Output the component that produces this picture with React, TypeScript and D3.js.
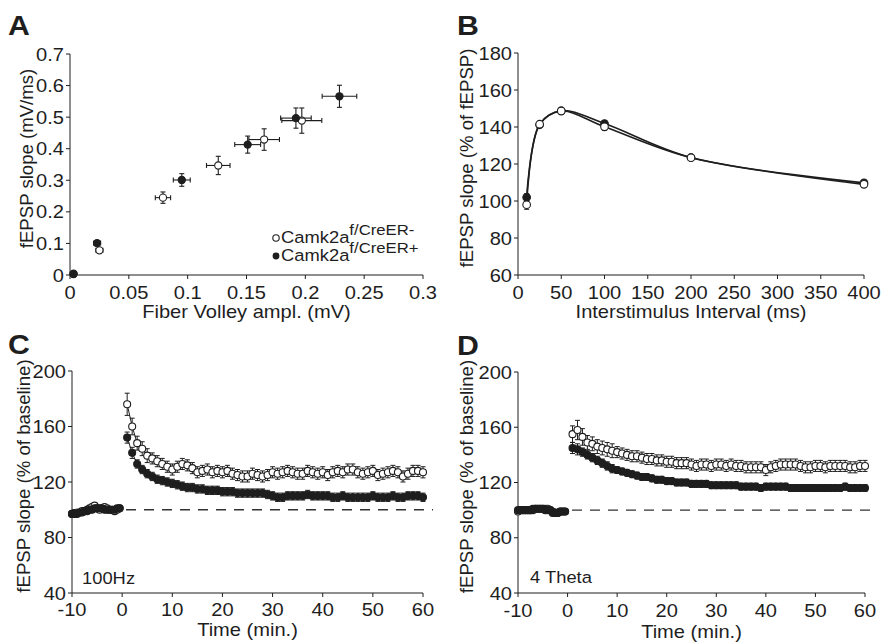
import React from 'react';
import * as d3 from 'd3';

// ---------- Panel A: input/output ----------
const fvOpen = [0.003, 0.025, 0.079, 0.126, 0.165, 0.197];
const fvOpenErr = [0.002, 0.003, 0.0065, 0.01, 0.013, 0.017];
const slopeOpen = [0.004, 0.078, 0.245, 0.347, 0.429, 0.489];
const slopeOpenErr = [0.003, 0.008, 0.018, 0.029, 0.034, 0.04];
const fvFilled = [0.003, 0.023, 0.095, 0.151, 0.192, 0.229];
const fvFilledErr = [0.002, 0.003, 0.0072, 0.011, 0.013, 0.0147];
const slopeFilled = [0.003, 0.101, 0.301, 0.413, 0.497, 0.566];
const slopeFilledErr = [0.003, 0.008, 0.02, 0.027, 0.032, 0.035];
const aXTicks = [0, 0.05, 0.1, 0.15, 0.2, 0.25, 0.3];
const aXLabels = ['0', '0.05', '0.1', '0.15', '0.2', '0.25', '0.3'];
const aYTicks = [0, 0.1, 0.2, 0.3, 0.4, 0.5, 0.6, 0.7];
const aYLabels = ['0', '0.1', '0.2', '0.3', '0.4', '0.5', '0.6', '0.7'];

// ---------- Panel B: paired pulse ----------
const isi = [10, 25, 50, 100, 200, 400];
const ppfOpen = [98, 141.5, 148.6, 140.1, 123.4, 109];
const ppfOpenErr = [2.5, 1.5, 1.5, 1.8, 1.2, 1.2];
const ppfFilled = [102, 141.2, 148.8, 141.9, 123.5, 109.8];
const ppfFilledErr = [2, 1.5, 1.5, 1.5, 1.2, 1.2];
const bXTicks = [0, 50, 100, 150, 200, 250, 300, 350, 400];
const bYTicks = [60, 80, 100, 120, 140, 160, 180];

// ---------- Panels C / D: LTP time course ----------
const timeMin = [
  -10, -9.5, -9, -8.5, -8, -7.5, -7, -6.5, -6, -5.5, -5, -4.5, -4, -3.5, -3, -2.5, -2, -1.5, -1, -0.5,
  1, 2, 3, 4, 5, 6, 7, 8, 9, 10, 11, 12, 13, 14, 15, 16, 17, 18, 19, 20,
  21, 22, 23, 24, 25, 26, 27, 28, 29, 30, 31, 32, 33, 34, 35, 36, 37, 38, 39, 40,
  41, 42, 43, 44, 45, 46, 47, 48, 49, 50, 51, 52, 53, 54, 55, 56, 57, 58, 59, 60,
];
const hfsOpen = [
  97, 97, 98, 98, 99, 99, 100, 101, 102, 103, 101, 100, 101, 102, 101, 100, 100, 99, 100, 101,
  176, 160, 148, 144, 139, 137, 135, 133, 131, 129, 131, 133, 132, 130, 127, 128, 129, 127, 128, 127,
  128, 126, 125, 124, 124, 126, 125, 124, 125, 127, 126, 127, 128, 127, 126, 126, 128, 127, 126, 127,
  125, 127, 128, 127, 129, 129, 127, 126, 127, 128, 125, 126, 127, 128, 127, 124, 126, 128, 128, 127,
];
const hfsOpenErr = [
  1.5, 1.5, 1.5, 1.5, 1.5, 1.5, 1.5, 1.5, 2, 2, 1.5, 1.5, 1.5, 1.5, 1.5, 1.5, 1.5, 1.5, 1.5, 1.5,
  8, 6, 5, 5, 5, 4, 4, 4, 4, 4, 4, 4, 4, 4, 4, 4, 4, 4, 4, 4,
  4, 4, 4, 4, 4, 4, 4, 4, 4, 4, 4, 4, 4, 4, 4, 4, 4, 4, 4, 4,
  4, 4, 4, 4, 4, 4, 4, 4, 4, 4, 4, 4, 4, 4, 4, 4, 4, 4, 4, 4,
];
const hfsFilled = [
  97, 97, 97, 98, 98, 99, 99, 100, 100, 101, 101, 101, 101, 100, 100, 100, 100, 100, 101, 101,
  152, 141, 133, 129, 126, 124, 122, 121, 120, 119, 118, 117, 116, 116, 115, 115, 114, 114, 114, 113,
  113, 113, 112, 112, 112, 112, 112, 112, 111, 110, 109, 109, 110, 110, 110, 110, 111, 110, 110, 110,
  110, 109, 109, 110, 109, 109, 109, 109, 109, 110, 109, 109, 109, 110, 109, 109, 110, 110, 110, 109,
];
const hfsFilledErr = [
  1.5, 1.5, 1.5, 1.5, 1.5, 1.5, 1.5, 1.5, 1.5, 1.5, 1.5, 1.5, 1.5, 1.5, 1.5, 1.5, 1.5, 1.5, 1.5, 1.5,
  4, 4, 3, 3, 3, 3, 3, 3, 3, 3, 3, 3, 3, 3, 3, 3, 3, 3, 3, 3,
  3, 3, 3, 3, 3, 3, 3, 3, 3, 3, 3, 3, 3, 3, 3, 3, 3, 3, 3, 3,
  3, 3, 3, 3, 3, 3, 3, 3, 3, 3, 3, 3, 3, 3, 3, 3, 3, 3, 3, 3,
];
const thetaOpen = [
  99, 100, 100, 100, 100, 100, 100, 101, 101, 101, 101, 101, 101, 100, 99, 98, 98, 99, 99, 99,
  155, 158, 153, 149, 148, 146, 145, 144, 143, 142, 141, 140, 139, 139, 138, 137, 137, 136, 136, 135,
  135, 134, 134, 134, 133, 132, 133, 133, 132, 133, 133, 132, 133, 132, 132, 131, 131, 131, 131, 129,
  131, 132, 133, 133, 133, 133, 132, 131, 131, 132, 132, 131, 132, 132, 132, 132, 131, 131, 132, 132,
];
const thetaOpenErr = [
  1, 1, 1, 1, 1, 1, 1, 1, 1, 1, 1, 1, 1, 1, 1, 1, 1, 1, 1, 1,
  6, 7, 6, 5, 5, 5, 5, 5, 5, 4, 4, 4, 4, 4, 4, 4, 4, 4, 4, 4,
  4, 4, 4, 4, 4, 4, 4, 4, 4, 4, 4, 4, 4, 4, 4, 4, 4, 4, 4, 4,
  4, 4, 4, 4, 4, 4, 4, 4, 4, 4, 4, 4, 4, 4, 4, 4, 4, 4, 4, 4,
];
const thetaFilled = [
  100, 100, 100, 100, 100, 100, 101, 101, 101, 101, 101, 100, 100, 100, 98, 98, 98, 99, 99, 99,
  145, 144, 142, 140, 138, 136, 134, 132, 130, 129, 128, 127, 126, 125, 124, 124, 123, 122, 122, 121,
  121, 120, 120, 120, 119, 119, 119, 119, 118, 118, 118, 118, 118, 118, 117, 117, 117, 117, 116, 117,
  117, 117, 117, 117, 116, 116, 116, 116, 116, 116, 116, 116, 116, 116, 116, 117, 116, 116, 116, 116,
];
const thetaFilledErr = [
  1, 1, 1, 1, 1, 1, 1, 1, 1, 1, 1, 1, 1, 1, 1, 1, 1, 1, 1, 1,
  4, 4, 3, 3, 3, 3, 3, 3, 3, 2.5, 2.5, 2.5, 2.5, 2.5, 2.5, 2.5, 2.5, 2.5, 2.5, 2.5,
  2.5, 2.5, 2.5, 2.5, 2.5, 2.5, 2.5, 2.5, 2.5, 2.5, 2.5, 2.5, 2.5, 2.5, 2.5, 2.5, 2.5, 2.5, 2.5, 2.5,
  2.5, 2.5, 2.5, 2.5, 2.5, 2.5, 2.5, 2.5, 2.5, 2.5, 2.5, 2.5, 2.5, 2.5, 2.5, 2.5, 2.5, 2.5, 2.5, 2.5,
];
const tXTicks = [-10, 0, 10, 20, 30, 40, 50, 60];
const tYTicks = [40, 80, 120, 160, 200];

const INK = '#1e1e1e';
const FONT = '"Liberation Sans", Arial, Helvetica, sans-serif';
const FS = 18.6;
const SX = 1.08; // the original figure is slightly stretched horizontally

type Lin = d3.ScaleLinear<number, number>;

// horizontal text, widened a little like the source figure
function HText({ x, y, anchor = 'start', size = FS, dy, children }: {
  x: number; y: number; anchor?: string; size?: number; dy?: string; children: React.ReactNode;
}) {
  return (
    <text transform={`translate(${x},${y}) scale(${SX},1)`} dy={dy} textAnchor={anchor}
      fontSize={size} fontFamily={FONT} fill={INK}>
      {children}
    </text>
  );
}

function Axes({ x, y, xTicks, xLabels, yTicks, yLabels, xLabel, yLabel, yLabelX, xLabelY, tickGap = 17 }: {
  x: Lin; y: Lin; xTicks: number[]; xLabels?: string[]; yTicks: number[]; yLabels?: string[];
  xLabel: string; yLabel: string; yLabelX: number; xLabelY: number; tickGap?: number;
}) {
  const [x0, x1] = x.range();
  const [y0, y1] = y.range();
  const yMid = (y0 + y1) / 2 - 6;
  return (
    <g>
      <line x1={x0} x2={x1} y1={y0} y2={y0} stroke={INK} strokeWidth={1} />
      <line x1={x0} x2={x0} y1={y0} y2={y1} stroke={INK} strokeWidth={1} />
      {xTicks.map((t, i) => (
        <g key={'x' + i}>
          <line x1={x(t)} x2={x(t)} y1={y0} y2={y0 + 4} stroke={INK} />
          <HText x={x(t)} y={y0 + tickGap} dy="0.35em" anchor="middle">
            {xLabels ? xLabels[i] : String(t)}
          </HText>
        </g>
      ))}
      {yTicks.map((t, i) => (
        <g key={'y' + i}>
          <line x1={x0 - 4} x2={x0} y1={y(t)} y2={y(t)} stroke={INK} />
          <HText x={x0 - 6} y={y(t)} dy="0.35em" anchor="end">
            {yLabels ? yLabels[i] : String(t)}
          </HText>
        </g>
      ))}
      <HText x={(x0 + x1) / 2} y={xLabelY} anchor="middle">{xLabel}</HText>
      <text transform={`translate(${yLabelX},${yMid}) rotate(-90)`} dy="0.35em" textAnchor="middle"
        fontSize={FS} fontFamily={FONT} fill={INK}>
        {yLabel}
      </text>
    </g>
  );
}

function Series({ xs, ys, errs, x, y, filled, line, curve, r = 3.5, cap = 2.5 }: {
  xs: number[]; ys: number[]; errs: number[]; x: Lin; y: Lin; filled: boolean;
  line?: boolean; curve?: d3.CurveFactory; r?: number; cap?: number;
}) {
  const idx = xs.map((_, i) => i);
  const path = d3.line<number>().x(i => x(xs[i])).y(i => y(ys[i])).curve(curve || d3.curveLinear);
  const pre = idx.filter(i => xs[i] < 0);
  const post = idx.filter(i => xs[i] >= 0);
  return (
    <g>
      {line && [pre, post].map((seg, k) => seg.length > 1 && (
        <path key={k} d={path(seg) || ''} fill="none" stroke={INK} strokeWidth={curve ? 1.6 : 1} />
      ))}
      {idx.map(i => (
        <g key={'e' + i} stroke={INK} strokeWidth={1}>
          <line x1={x(xs[i])} x2={x(xs[i])} y1={y(ys[i] - errs[i])} y2={y(ys[i] + errs[i])} />
          <line x1={x(xs[i]) - cap} x2={x(xs[i]) + cap} y1={y(ys[i] + errs[i])} y2={y(ys[i] + errs[i])} />
          <line x1={x(xs[i]) - cap} x2={x(xs[i]) + cap} y1={y(ys[i] - errs[i])} y2={y(ys[i] - errs[i])} />
        </g>
      ))}
      {idx.map(i => (
        <circle key={'c' + i} cx={x(xs[i])} cy={y(ys[i])} r={r}
          fill={filled ? INK : '#fff'} stroke={INK} strokeWidth={1.1} />
      ))}
    </g>
  );
}

function XYErr({ xs, xe, ys, ye, x, y, filled }: {
  xs: number[]; xe: number[]; ys: number[]; ye: number[]; x: Lin; y: Lin; filled: boolean;
}) {
  return (
    <g stroke={INK} strokeWidth={1.1}>
      {xs.map((v, i) => {
        const cx = x(v), cy = y(ys[i]);
        const xl = x(v - xe[i]), xr = x(v + xe[i]);
        const yt = y(ys[i] + ye[i]), yb = y(ys[i] - ye[i]);
        return (
          <g key={i}>
            <line x1={xl} x2={xr} y1={cy} y2={cy} />
            <line x1={xl} x2={xl} y1={cy - 2.5} y2={cy + 2.5} />
            <line x1={xr} x2={xr} y1={cy - 2.5} y2={cy + 2.5} />
            <line x1={cx} x2={cx} y1={yt} y2={yb} />
            <line x1={cx - 2.5} x2={cx + 2.5} y1={yt} y2={yt} />
            <line x1={cx - 2.5} x2={cx + 2.5} y1={yb} y2={yb} />
            <circle cx={cx} cy={cy} r={3.6} fill={filled ? INK : '#fff'} />
          </g>
        );
      })}
    </g>
  );
}

function PanelLetter({ x, y, t }: { x: number; y: number; t: string }) {
  return (
    <text transform={`translate(${x},${y}) scale(${SX},1)`} fontFamily={FONT} fontWeight="bold"
      fontSize={28} fill={INK}>{t}</text>
  );
}

export default function App() {
  const xA = d3.scaleLinear().domain([0, 0.3]).range([70, 423]);
  const yA = d3.scaleLinear().domain([0, 0.7]).range([275, 54]);
  const xB = d3.scaleLinear().domain([0, 400]).range([518, 864]);
  const yB = d3.scaleLinear().domain([60, 180]).range([275, 53]);
  const xC = d3.scaleLinear().domain([-10, 60]).range([72, 423]);
  const yC = d3.scaleLinear().domain([40, 200]).range([593, 371]);
  const xD = d3.scaleLinear().domain([-10, 60]).range([518, 865]);
  const yD = d3.scaleLinear().domain([40, 200]).range([593, 372]);

  return (
    <div style={{ position: 'absolute', left: 0, top: 0 }}>
      <svg width={883} height={644} viewBox="0 0 883 644" style={{ display: 'block', background: '#fff' }}>
        {/* A */}
        <PanelLetter x={8} y={35} t="A" />
        <Axes x={xA} y={yA} xTicks={aXTicks} xLabels={aXLabels} yTicks={aYTicks} yLabels={aYLabels}
          xLabel="Fiber Volley ampl. (mV)" yLabel="fEPSP slope (mV/ms)" yLabelX={26} xLabelY={318} />
        <XYErr xs={fvOpen} xe={fvOpenErr} ys={slopeOpen} ye={slopeOpenErr} x={xA} y={yA} filled={false} />
        <XYErr xs={fvFilled} xe={fvFilledErr} ys={slopeFilled} ye={slopeFilledErr} x={xA} y={yA} filled={true} />
        <circle cx={276} cy={238} r={3.2} fill="#fff" stroke={INK} strokeWidth={1.1} />
        <HText x={281} y={243} size={17}>Camk2a<tspan dy={-8} fontSize={15.5}>f/CreER-</tspan></HText>
        <circle cx={276} cy={256} r={3.4} fill={INK} />
        <HText x={281} y={261} size={17}>Camk2a<tspan dy={-8} fontSize={15.5}>f/CreER+</tspan></HText>

        {/* B */}
        <PanelLetter x={457} y={35} t="B" />
        <Axes x={xB} y={yB} xTicks={bXTicks} yTicks={bYTicks}
          xLabel="Interstimulus Interval (ms)" yLabel="fEPSP slope (% of fEPSP)" yLabelX={466} xLabelY={318} />
        <Series xs={isi} ys={ppfFilled} errs={ppfFilledErr} x={xB} y={yB} filled={true} line curve={d3.curveCatmullRom} r={3.8} />
        <Series xs={isi} ys={ppfOpen} errs={ppfOpenErr} x={xB} y={yB} filled={false} line curve={d3.curveCatmullRom} r={3.8} />

        {/* C */}
        <PanelLetter x={8} y={354} t="C" />
        <Axes x={xC} y={yC} xTicks={tXTicks} yTicks={tYTicks}
          xLabel="Time (min.)" yLabel="fEPSP slope (% of baseline)" yLabelX={23} xLabelY={636} tickGap={16.5} />
        <line x1={xC(-10)} x2={xC(62)} y1={yC(100)} y2={yC(100)} stroke="#333" strokeWidth={1.4} strokeDasharray="10,8" />
        <Series xs={timeMin} ys={hfsOpen} errs={hfsOpenErr} x={xC} y={yC} filled={false} line />
        <Series xs={timeMin} ys={hfsFilled} errs={hfsFilledErr} x={xC} y={yC} filled={true} line />
        <HText x={82} y={584} size={17}>100Hz</HText>

        {/* D */}
        <PanelLetter x={457} y={355} t="D" />
        <Axes x={xD} y={yD} xTicks={tXTicks} yTicks={tYTicks}
          xLabel="Time (min.)" yLabel="fEPSP slope (% of baseline)" yLabelX={466} xLabelY={638} />
        <line x1={xD(-10)} x2={xD(62)} y1={yD(100)} y2={yD(100)} stroke="#333" strokeWidth={1.4} strokeDasharray="10,8" />
        <Series xs={timeMin} ys={thetaOpen} errs={thetaOpenErr} x={xD} y={yD} filled={false} line />
        <Series xs={timeMin} ys={thetaFilled} errs={thetaFilledErr} x={xD} y={yD} filled={true} line />
        <HText x={530} y={583} size={17}>4 Theta</HText>
      </svg>
    </div>
  );
}
